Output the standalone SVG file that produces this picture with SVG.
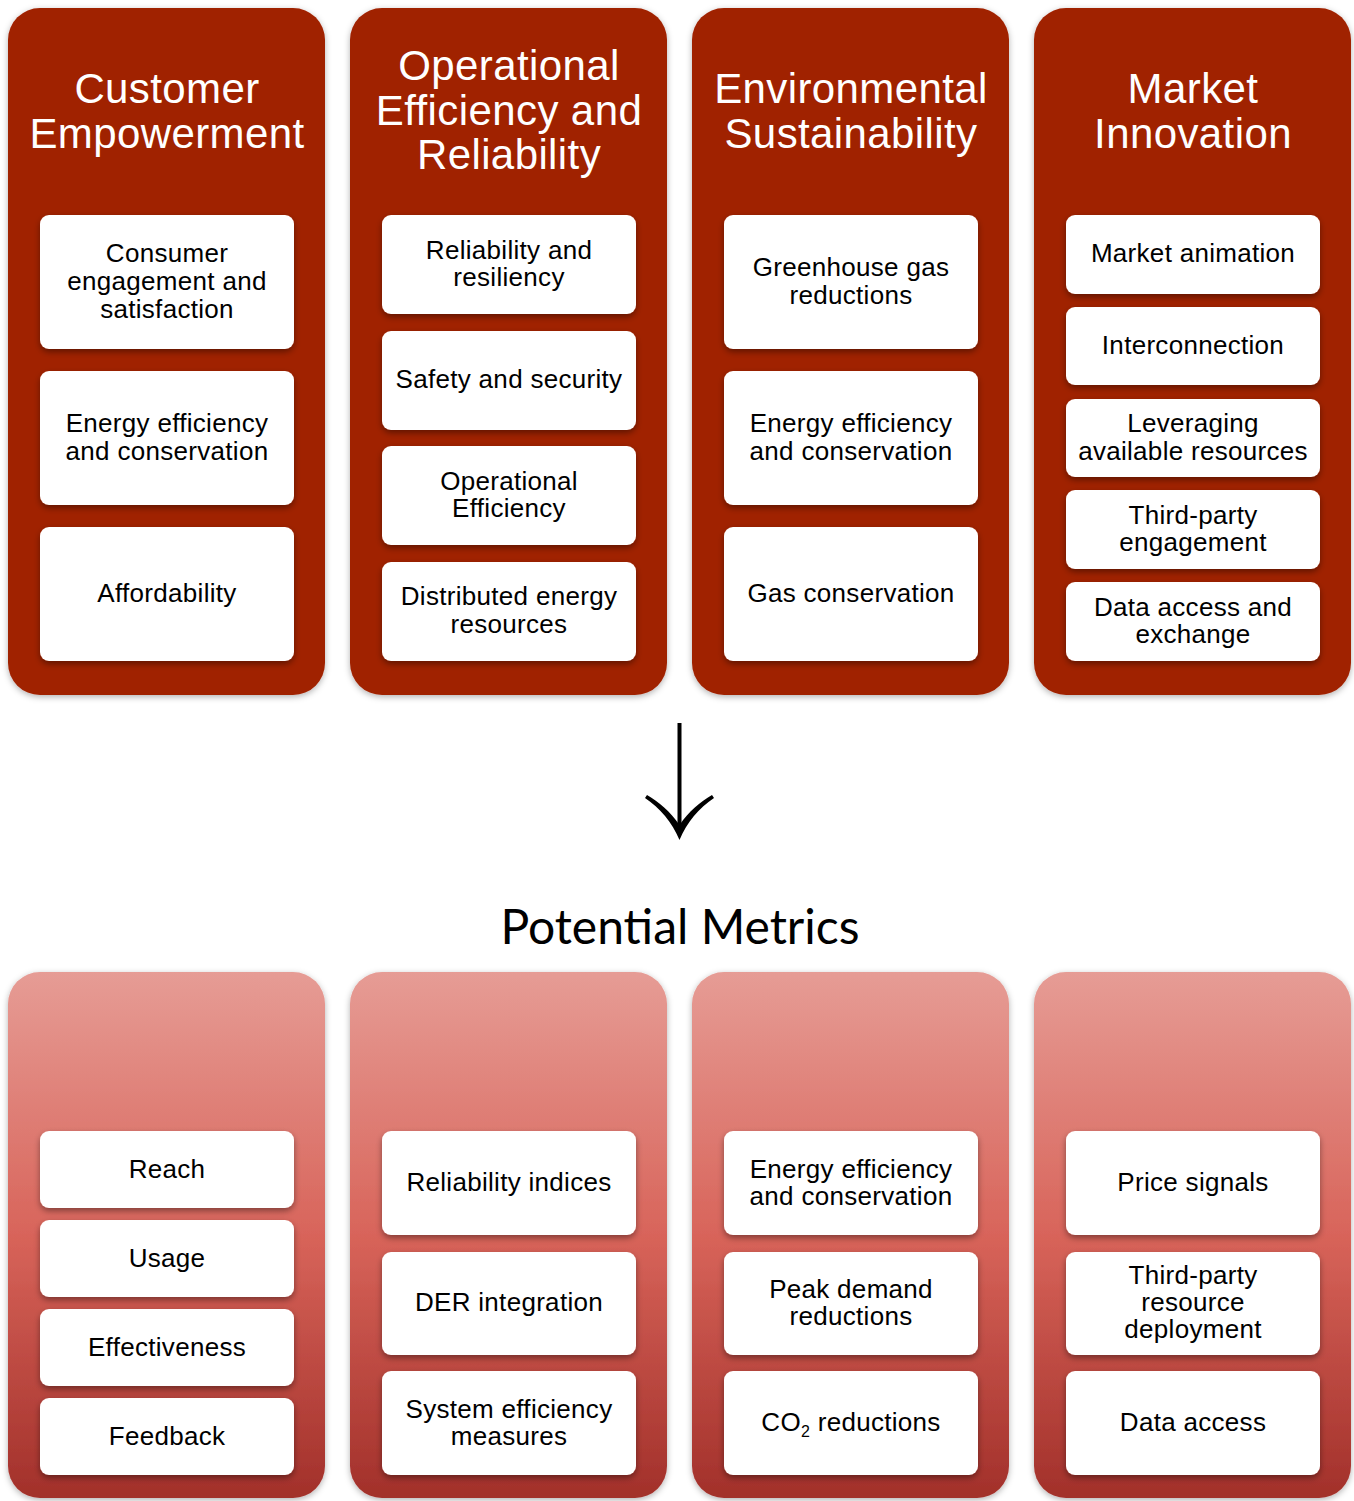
<svg xmlns="http://www.w3.org/2000/svg" width="1354" height="1501" viewBox="0 0 1354 1501">
<defs>
<linearGradient id="g" x1="0" y1="0" x2="0" y2="1">
<stop offset="0" stop-color="#E69C95"/>
<stop offset="0.5" stop-color="#D8645A"/>
<stop offset="1" stop-color="#A2302A"/>
</linearGradient>
<filter id="ps" x="-10%" y="-10%" width="120%" height="120%">
<feDropShadow dx="0" dy="2" stdDeviation="3" flood-color="#000" flood-opacity="0.3"/>
</filter>
<filter id="bs" x="-10%" y="-20%" width="120%" height="150%">
<feDropShadow dx="0" dy="3" stdDeviation="3" flood-color="#000" flood-opacity="0.4"/>
</filter>
</defs>
<style>
.top{fill:#A02200;filter:url(#ps)}
.bot{fill:url(#g);filter:url(#ps)}
.box{fill:#fff;filter:url(#bs)}
.t{font-family:"Liberation Sans",Arial,sans-serif;font-size:42px;letter-spacing:0.4px;fill:#fff;text-anchor:middle}
.b{font-family:"Liberation Sans",Arial,sans-serif;font-size:26px;letter-spacing:0.3px;fill:#000;text-anchor:middle}
.h{font-family:Lato,"Open Sans",sans-serif;font-size:48px;fill:#000;text-anchor:middle}
</style>
<rect width="1354" height="1501" fill="#fff"/>

<g id="panel-customer">
<rect class="top" x="8" y="8" width="317" height="687" rx="32"/>
<text class="t" x="167" y="103">Customer</text>
<text class="t" x="167" y="148">Empowerment</text>
<g id="n-consumer"><rect class="box" x="40" y="215" width="254" height="134" rx="9"/>
<text class="b" x="167" y="262">Consumer</text><text class="b" x="167" y="290">engagement and</text><text class="b" x="167" y="318">satisfaction</text></g>
<g id="n-ee1"><rect class="box" x="40" y="371" width="254" height="134" rx="9"/>
<text class="b" x="167" y="432">Energy efficiency</text><text class="b" x="167" y="460">and conservation</text></g>
<g id="n-afford"><rect class="box" x="40" y="527" width="254" height="134" rx="9"/>
<text class="b" x="167" y="602">Affordability</text></g>
</g>

<g id="panel-operational">
<rect class="top" x="350" y="8" width="317" height="687" rx="32"/>
<text class="t" x="509" y="80">Operational</text>
<text class="t" x="509" y="125">Efficiency and</text>
<text class="t" x="509" y="169">Reliability</text>
<g id="n-rel"><rect class="box" x="382" y="215" width="254" height="99" rx="9"/>
<text class="b" x="509" y="259">Reliability and</text><text class="b" x="509" y="286">resiliency</text></g>
<g id="n-safety"><rect class="box" x="382" y="331" width="254" height="99" rx="9"/>
<text class="b" x="509" y="388">Safety and security</text></g>
<g id="n-opeff"><rect class="box" x="382" y="446" width="254" height="99" rx="9"/>
<text class="b" x="509" y="490">Operational</text><text class="b" x="509" y="517">Efficiency</text></g>
<g id="n-der"><rect class="box" x="382" y="562" width="254" height="99" rx="9"/>
<text class="b" x="509" y="605">Distributed energy</text><text class="b" x="509" y="633">resources</text></g>
</g>

<g id="panel-environmental">
<rect class="top" x="692" y="8" width="317" height="687" rx="32"/>
<text class="t" x="851" y="103">Environmental</text>
<text class="t" x="851" y="148">Sustainability</text>
<g id="n-ghg"><rect class="box" x="724" y="215" width="254" height="134" rx="9"/>
<text class="b" x="851" y="276">Greenhouse gas</text><text class="b" x="851" y="304">reductions</text></g>
<g id="n-ee2"><rect class="box" x="724" y="371" width="254" height="134" rx="9"/>
<text class="b" x="851" y="432">Energy efficiency</text><text class="b" x="851" y="460">and conservation</text></g>
<g id="n-gas"><rect class="box" x="724" y="527" width="254" height="134" rx="9"/>
<text class="b" x="851" y="602">Gas conservation</text></g>
</g>

<g id="panel-market">
<rect class="top" x="1034" y="8" width="317" height="687" rx="32"/>
<text class="t" x="1193" y="103">Market</text>
<text class="t" x="1193" y="148">Innovation</text>
<g id="n-anim"><rect class="box" x="1066" y="215" width="254" height="79" rx="9"/>
<text class="b" x="1193" y="262">Market animation</text></g>
<g id="n-inter"><rect class="box" x="1066" y="307" width="254" height="78" rx="9"/>
<text class="b" x="1193" y="354">Interconnection</text></g>
<g id="n-lev"><rect class="box" x="1066" y="399" width="254" height="78" rx="9"/>
<text class="b" x="1193" y="432">Leveraging</text><text class="b" x="1193" y="460">available resources</text></g>
<g id="n-third"><rect class="box" x="1066" y="490" width="254" height="79" rx="9"/>
<text class="b" x="1193" y="524">Third-party</text><text class="b" x="1193" y="551">engagement</text></g>
<g id="n-data"><rect class="box" x="1066" y="582" width="254" height="79" rx="9"/>
<text class="b" x="1193" y="616">Data access and</text><text class="b" x="1193" y="643">exchange</text></g>
</g>

<g id="connectors">
<line x1="679.5" y1="723" x2="679.5" y2="830" stroke="#000" stroke-width="4"/>
<path d="M645,798 C660,808 672,822 679.5,840 C687,822 699,808 714,798 L712,795 C700,802 689,811 679.5,825 C670,811 659,802 647,795 Z" fill="#000"/>
</g>

<text id="heading" class="h" x="680" y="944">Potential Metrics</text>

<g id="metrics-customer">
<rect class="bot" x="8" y="972" width="317" height="526" rx="32"/>
<g id="m-reach"><rect class="box" x="40" y="1131" width="254" height="77" rx="9"/><text class="b" x="167" y="1178">Reach</text></g>
<g id="m-usage"><rect class="box" x="40" y="1220" width="254" height="77" rx="9"/><text class="b" x="167" y="1267">Usage</text></g>
<g id="m-eff"><rect class="box" x="40" y="1309" width="254" height="77" rx="9"/><text class="b" x="167" y="1356">Effectiveness</text></g>
<g id="m-feed"><rect class="box" x="40" y="1398" width="254" height="77" rx="9"/><text class="b" x="167" y="1445">Feedback</text></g>
</g>

<g id="metrics-operational">
<rect class="bot" x="350" y="972" width="317" height="526" rx="32"/>
<g id="m-relidx"><rect class="box" x="382" y="1131" width="254" height="104" rx="9"/><text class="b" x="509" y="1191">Reliability indices</text></g>
<g id="m-derint"><rect class="box" x="382" y="1252" width="254" height="103" rx="9"/><text class="b" x="509" y="1311">DER integration</text></g>
<g id="m-sys"><rect class="box" x="382" y="1371" width="254" height="104" rx="9"/><text class="b" x="509" y="1418">System efficiency</text><text class="b" x="509" y="1445">measures</text></g>
</g>

<g id="metrics-environmental">
<rect class="bot" x="692" y="972" width="317" height="526" rx="32"/>
<g id="m-ee"><rect class="box" x="724" y="1131" width="254" height="104" rx="9"/><text class="b" x="851" y="1178">Energy efficiency</text><text class="b" x="851" y="1205">and conservation</text></g>
<g id="m-peak"><rect class="box" x="724" y="1252" width="254" height="103" rx="9"/><text class="b" x="851" y="1298">Peak demand</text><text class="b" x="851" y="1325">reductions</text></g>
<g id="m-co2"><rect class="box" x="724" y="1371" width="254" height="104" rx="9"/><text class="b" x="851" y="1431">CO<tspan font-size="16" dy="6">2</tspan><tspan dy="-6"> reductions</tspan></text></g>
</g>

<g id="metrics-market">
<rect class="bot" x="1034" y="972" width="317" height="526" rx="32"/>
<g id="m-price"><rect class="box" x="1066" y="1131" width="254" height="104" rx="9"/><text class="b" x="1193" y="1191">Price signals</text></g>
<g id="m-third"><rect class="box" x="1066" y="1252" width="254" height="103" rx="9"/><text class="b" x="1193" y="1284">Third-party</text><text class="b" x="1193" y="1311">resource</text><text class="b" x="1193" y="1338">deployment</text></g>
<g id="m-data"><rect class="box" x="1066" y="1371" width="254" height="104" rx="9"/><text class="b" x="1193" y="1431">Data access</text></g>
</g>
</svg>
